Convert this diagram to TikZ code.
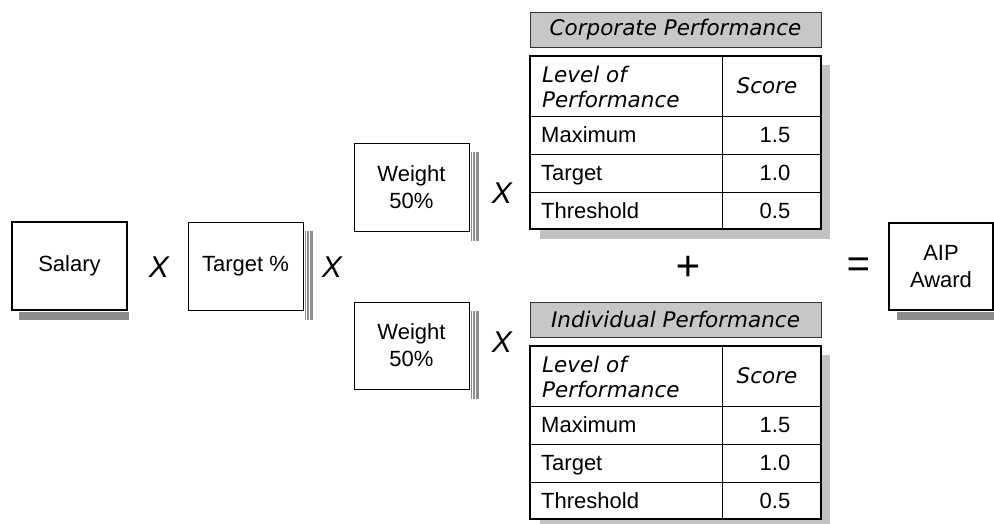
\documentclass[tikz,border=0pt]{standalone}
\usepackage{fontspec}
\setmainfont{Liberation Sans}
\newfontfamily\dejavu{DejaVu Sans}
\usetikzlibrary{positioning}

\definecolor{headgray}{gray}{0.78}
\definecolor{shadegray}{gray}{0.76}
\definecolor{darkshade}{gray}{0.55}

\tikzset{
  txt/.style={font=\fontsize{22}{27}\selectfont, inner sep=0pt},
  obl/.style={font=\dejavu\itshape\fontsize{21.5}{25}\selectfont, inner sep=0pt},
  op/.style={font=\itshape\fontsize{30}{30}\selectfont, inner sep=0pt},
  box/.style={draw, line width=1pt, fill=white, txt, align=center,
    minimum width=115, minimum height=88},
  bigbox/.style={box, line width=2pt},
  head/.style={draw=black!80, line width=1pt, fill=headgray, obl,
    minimum width=291, minimum height=35},
}

\begin{document}
\begin{tikzpicture}[x=1pt,y=-1pt]
\useasboundingbox (0,0) rectangle (994,523);

% left factors
\node[bigbox] (salary) at (69.5,266) {Salary};
\node[op] (times1) at (159,267) {X};
\node[box] (target) at (245.5,266) {Target \%};
\node[op] (times2) at (332,267) {X};

% shadows of the boxes
\fill[darkshade] ([xshift=8pt,yshift=-1pt]salary.south west) rectangle ([xshift=1pt,yshift=-9pt]salary.south east);
\fill[darkshade] ([xshift=1pt,yshift=-9pt]target.north east) rectangle ([xshift=9pt,yshift=-9pt]target.south east);
\foreach \d in {3,6} \draw[white, line width=0.6pt] ([xshift=\d pt,yshift=-9pt]target.north east) -- ([xshift=\d pt,yshift=-9pt]target.south east);

% weights
\node[box] (wtop) at (411.5,187) {Weight\\50\%};
\node[box, minimum height=87] (wbot) at (411.5,345.5) {Weight\\50\%};
\node[op] (times3) at (502,193) {X};
\node[op] (times4) at (502,342) {X};
\foreach \w in {wtop,wbot} {
  \fill[darkshade] ([xshift=1pt,yshift=-9pt]\w.north east) rectangle ([xshift=9pt,yshift=-9pt]\w.south east);
  \foreach \d in {3,6} \draw[white, line width=0.6pt] ([xshift=\d pt,yshift=-9pt]\w.north east) -- ([xshift=\d pt,yshift=-9pt]\w.south east);
}

% performance tables
\foreach \tab/\title/\oy in {corp/Corporate/12, indiv/Individual/302} {
\begin{scope}[shift={(0,\oy)}]
  \node[head] (\tab-head) at (675.5,17.5) {\title\ Performance};
  \fill[shadegray] (821,53) rectangle (830,227);
  \fill[shadegray] (540,217) rectangle (830,227);
  \draw[line width=1.5pt, fill=white] (530,44) rectangle (821,217);
  \foreach \ly in {104,142,180} \draw[line width=1pt] (530,\ly) -- (821,\ly);
  \draw[line width=1pt] (722,44) -- (722,217);
  \node[obl, anchor=west, align=left] (\tab-level) at (542,75) {Level of\\Performance};
  \node[obl] (\tab-score) at (767,74) {Score};
  \foreach \lbl/\val/\ry [count=\i] in {Maximum/1.5/123, Target/1.0/161, Threshold/0.5/198.5} {
    \node[txt, anchor=west, text height=15.8pt, text depth=0pt] (\tab-l\i) at (541,\ry) {\lbl};
    \node[txt, text height=15.8pt, text depth=0pt] (\tab-v\i) at (775,\ry) {\val};
  }
\end{scope}
}

% result
\node[op, font=\itshape\fontsize{42}{42}\selectfont] (plus) at (688,268) {+};
\node[op, font=\itshape\fontsize{40}{40}\selectfont] (equals) at (858,268) {=};
\node[bigbox, minimum width=104, minimum height=87] (aip) at (941,266.5) {AIP\\Award};
\fill[darkshade] ([xshift=9pt,yshift=-1pt]aip.south west) rectangle ([xshift=1pt,yshift=-9pt]aip.south east);
\end{tikzpicture}
\end{document}
